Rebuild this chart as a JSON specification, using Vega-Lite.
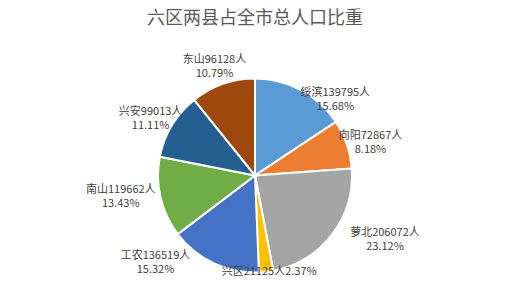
{
  "$schema": "https://vega.github.io/schema/vega-lite/v6.json",
  "width": 505,
  "height": 283,
  "autosize": {"type": "fit", "contains": "padding"},
  "padding": {"left": 5, "right": 0, "top": 47, "bottom": 0},
  "background": "white",
  "title": {
    "text": "六区两县占全市总人口比重",
    "font": "Noto Sans CJK SC",
    "fontSize": 18,
    "fontWeight": "normal",
    "color": "#595959",
    "anchor": "middle",
    "offset": 4
  },
  "config": {"view": {"stroke": null}},
  "data": {
    "values": [
      {"i": 1, "name": "绥滨", "pop": 139795, "label": "绥滨139795人\n15.68%"},
      {"i": 2, "name": "向阳", "pop": 72867, "label": "向阳72867人\n8.18%"},
      {"i": 3, "name": "萝北", "pop": 206072, "label": "萝北206072人\n23.12%"},
      {"i": 4, "name": "兴区", "pop": 21125, "label": "兴区21125人2.37%"},
      {"i": 5, "name": "工农", "pop": 136519, "label": "工农136519人\n15.32%"},
      {"i": 6, "name": "南山", "pop": 119662, "label": "南山119662人\n13.43%"},
      {"i": 7, "name": "兴安", "pop": 99013, "label": "兴安99013人\n11.11%"},
      {"i": 8, "name": "东山", "pop": 96128, "label": "东山96128人\n10.79%"}
    ]
  },
  "encoding": {
    "theta": {"field": "pop", "type": "quantitative", "stack": true},
    "order": {"field": "i", "type": "quantitative"},
    "color": {
      "field": "name",
      "type": "nominal",
      "legend": null,
      "scale": {
        "domain": ["绥滨", "向阳", "萝北", "兴区", "工农", "南山", "兴安", "东山"],
        "range": ["#5B9BD5", "#ED7D31", "#A5A5A5", "#FFC000", "#4472C4", "#70AD47", "#255E91", "#9E480E"]
      }
    }
  },
  "layer": [
    {"mark": {"type": "arc", "outerRadius": 97, "stroke": "white", "strokeWidth": 2}},
    {
      "mark": {"type": "text", "radius": 122, "font": "Noto Sans CJK SC", "fontSize": 11, "lineHeight": 14, "lineBreak": "\n", "align": "center", "baseline": "middle"},
      "encoding": {"text": {"condition": {"test": "datum.name === '东山' || datum.name === '向阳' || datum.name === '兴安'", "field": "label"}, "value": ""}, "color": {"value": "#404040"}}
    },
    {
      "mark": {"type": "text", "radius": 135, "thetaOffset": 0.12, "font": "Noto Sans CJK SC", "fontSize": 11, "lineHeight": 14, "lineBreak": "\n", "align": "center", "baseline": "middle"},
      "encoding": {"text": {"condition": {"test": "datum.name === '南山'", "field": "label"}, "value": ""}, "color": {"value": "#404040"}}
    },
    {
      "mark": {"type": "text", "radius": 115, "thetaOffset": 0.28, "font": "Noto Sans CJK SC", "fontSize": 11, "lineHeight": 14, "lineBreak": "\n", "align": "center", "baseline": "middle"},
      "encoding": {"text": {"condition": {"test": "datum.name === '绥滨'", "field": "label"}, "value": ""}, "color": {"value": "#404040"}}
    },
    {
      "mark": {"type": "text", "radius": 142, "thetaOffset": -0.24, "font": "Noto Sans CJK SC", "fontSize": 11, "lineHeight": 14, "lineBreak": "\n", "align": "center", "baseline": "middle"},
      "encoding": {"text": {"condition": {"test": "datum.name === '萝北'", "field": "label"}, "value": ""}, "color": {"value": "#404040"}}
    },
    {
      "mark": {"type": "text", "radius": 98, "thetaOffset": -0.03, "font": "Noto Sans CJK SC", "fontSize": 11, "lineHeight": 14, "lineBreak": "\n", "align": "center", "baseline": "middle"},
      "encoding": {"text": {"condition": {"test": "datum.name === '兴区'", "field": "label"}, "value": ""}, "color": {"value": "#404040"}}
    },
    {
      "mark": {"type": "text", "radius": 128, "thetaOffset": 0.45, "font": "Noto Sans CJK SC", "fontSize": 11, "lineHeight": 14, "lineBreak": "\n", "align": "center", "baseline": "middle"},
      "encoding": {"text": {"condition": {"test": "datum.name === '工农'", "field": "label"}, "value": ""}, "color": {"value": "#404040"}}
    }
  ]
}
